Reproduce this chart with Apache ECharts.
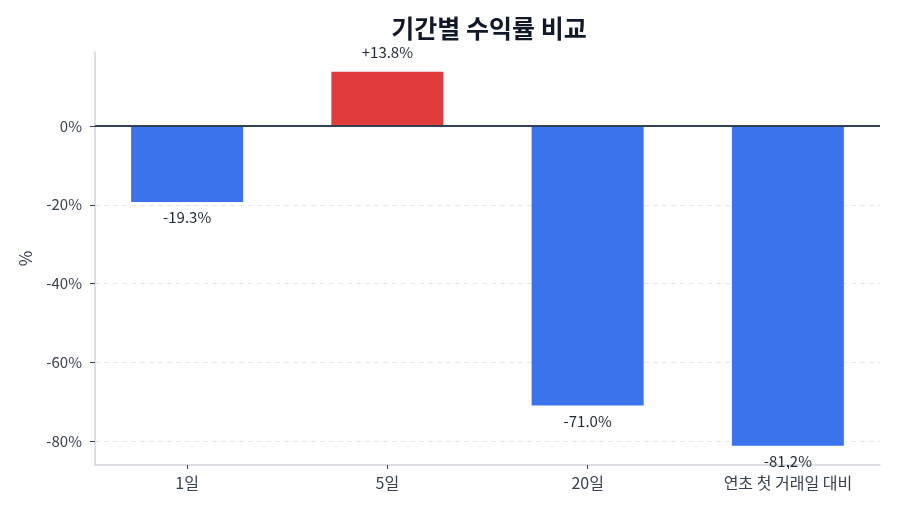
<!DOCTYPE html>
<html>
<head>
<meta charset="utf-8">
<script src="https://cdn.jsdelivr.net/npm/echarts@6/dist/echarts.min.js"></script>
<style>
html,body{margin:0;padding:0;background:#fff;}
#c{width:900px;height:514px;}
</style>
</head>
<body>
<div id="c"></div>
<script>
const categories = ['1일', '5일', '20일', '연초 첫 거래일 대비'];
const returns = [-19.3, 13.8, -71.0, -81.2];
const yTicks = [0, -20, -40, -60, -80];
const gridLevels = [-20, -40, -60, -80];
const titleText = '기간별 수익률 비교';

const FONT = '"Noto Sans CJK KR", "Noto Sans", sans-serif';
const chart = echarts.init(document.getElementById('c'), null, {renderer: 'canvas'});

const barData = returns.map((v, i) => ({
  value: [i, v],
  itemStyle: {color: v >= 0 ? '#e03c3c' : '#3b73ec'},
  label: {
    show: true,
    position: v >= 0 ? 'top' : 'bottom',
    distance: v >= 0 ? 12 : 8,
    formatter: (v >= 0 ? '+' : '') + v.toFixed(1) + '%'
  }
}));

chart.setOption({
  animation: false,
  backgroundColor: '#ffffff',
  title: {
    text: titleText,
    left: 484, top: 11, textAlign: 'center',
    textStyle: {fontFamily: FONT, fontSize: 25, fontWeight: 'bold', color: '#111827'}
  },
  grid: {left: 95, right: 20, top: 52, bottom: 49, containLabel: false},
  xAxis: {
    type: 'value', min: -0.46, max: 3.46,
    axisLine: {show: true, onZero: false, lineStyle: {color: '#d1d5db', width: 1.5}},
    axisTick: {show: true, length: 4, customValues: [0, 1, 2, 3], lineStyle: {color: '#374151', width: 1}},
    axisLabel: {
      customValues: [0, 1, 2, 3], margin: 10,
      fontFamily: FONT, fontSize: 16, color: '#374151',
      formatter: v => categories[Math.round(v)]
    },
    splitLine: {show: false}
  },
  yAxis: {
    type: 'value', min: -86.1, max: 18.8,
    name: '%', nameLocation: 'middle', nameGap: 61,
    nameTextStyle: {fontFamily: FONT, fontSize: 17, color: '#374151'},
    axisLine: {show: true, onZero: false, lineStyle: {color: '#d1d5db', width: 1.5}},
    axisTick: {show: true, length: 5, customValues: yTicks, lineStyle: {color: '#374151', width: 1}},
    axisLabel: {
      customValues: yTicks, margin: 13,
      fontFamily: FONT, fontSize: 15, color: '#374151',
      formatter: v => Math.round(v) + '%'
    },
    splitLine: {show: false}
  },
  series: [
    {
      type: 'line', data: [], z: 1, silent: true,
      markLine: {
        silent: true, symbol: 'none', label: {show: false}, z: 1,
        lineStyle: {type: [5, 4], color: '#e5e7eb', width: 1},
        data: gridLevels.map(v => ({yAxis: v}))
      }
    },
    {
      type: 'bar', z: 2, barWidth: 112,
      data: barData,
      label: {fontFamily: FONT, fontSize: 15, color: '#1f2937'},
      markLine: {
        silent: true, symbol: 'none', label: {show: false}, z: 5,
        lineStyle: {type: 'solid', color: '#334155', width: 2},
        data: [{yAxis: 0}]
      }
    }
  ]
});
</script>
</body>
</html>
